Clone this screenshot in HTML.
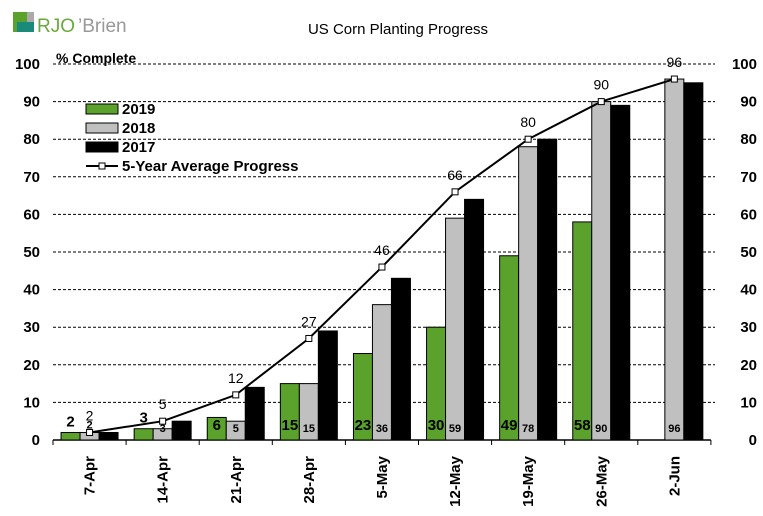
<!DOCTYPE html>
<html><head><meta charset="utf-8"><style>
body{margin:0;background:#fff;}
svg{display:block;font-family:"Liberation Sans",Arial,sans-serif;}
</style></head><body>
<svg id="c" width="763" height="516">
<g>
<rect x="13" y="12" width="14" height="20" fill="#5aa22c"/>
<rect x="27" y="12" width="7" height="10" fill="#aaa"/>
<rect x="17" y="22" width="17" height="10" fill="#1a8a7a"/>
<text x="37" y="32" font-size="19" fill="#6aaa3a">RJO</text>
<text x="78" y="32" font-size="19" fill="#999">’Brien</text>
</g>
<text x="398" y="34" font-size="15" text-anchor="middle">US Corn Planting Progress</text>
<text x="56" y="63" font-size="14" font-weight="bold">% Complete</text>
<g id="grid"></g><g id="bars"></g><g id="line"></g><g id="labels"></g>
<g font-weight="600">
<rect x="86" y="104" width="32" height="10" fill="#5aa22c" stroke="#000"/>
<text x="122" y="114" font-size="15">2019</text>
<rect x="86" y="123" width="32" height="10" fill="#c0c0c0" stroke="#000"/>
<text x="122" y="133" font-size="15">2018</text>
<rect x="86" y="142" width="32" height="10" fill="#000" stroke="#000"/>
<text x="122" y="152" font-size="15">2017</text>
<line x1="86" y1="166" x2="118" y2="166" stroke="#000" stroke-width="2"/>
<rect x="99" y="163" width="6" height="6" fill="#fff" stroke="#000"/>
<text x="122" y="171" font-size="15">5-Year Average Progress</text>
</g>
</svg>
<script>
const categories=["7-Apr","14-Apr","21-Apr","28-Apr","5-May","12-May","19-May","26-May","2-Jun"];
const s2019=[2,3,6,15,23,30,49,58,null];
const s2018=[2,3,5,15,36,59,78,90,96];
const s2017=[2,5,14,29,43,64,80,89,95];
const avg5=[2,5,12,27,46,66,80,90,96];
const yTicks=[0,10,20,30,40,50,60,70,80,90,100];
const NS="http://www.w3.org/2000/svg";
const x0=53,cw=73.1,yb=440,ppu=3.76,bw=19;
const y=v=>yb-v*ppu;
const cx=i=>x0+cw*i+cw/2;
function mk(tag,at,parent,txt){const e=document.createElementNS(NS,tag);for(const k in at)e.setAttribute(k,at[k]);if(txt!=null)e.textContent=txt;document.getElementById(parent).appendChild(e);return e;}
yTicks.forEach(t=>{
 if(t>0){const l=mk('line',{x1:x0,x2:715,y1:y(t),y2:y(t),stroke:'#000','stroke-dasharray':'3,2','stroke-width':1},'grid');
 
 }
 const a=mk('text',{x:40,y:y(t)+5,'font-size':15,'font-weight':600,'text-anchor':'end'},'grid',t);
 
 
 const b=mk('text',{x:757,y:y(t)+5,'font-size':15,'font-weight':600,'text-anchor':'end'},'grid',t);
 
 
});
const ax=mk('line',{x1:x0,x2:x0+cw*9,y1:yb,y2:yb,stroke:'#000','stroke-width':1.5},'grid');


for(let i=0;i<=9;i++){const tk=mk('line',{x1:x0+cw*i,x2:x0+cw*i,y1:yb,y2:yb+5,stroke:'#000'},'grid');

}
const series=[[s2019,'#5aa22c','bar-2019'],[s2018,'#c0c0c0','bar-2018'],[s2017,'#000','bar-2017']];
categories.forEach((c,i)=>{
 series.forEach(([arr,col,nm],j)=>{
  const v=arr[i];if(v==null)return;
  const bx=cx(i)-1.5*bw+j*bw;
  const r=mk('rect',{x:bx,y:y(v),width:bw,height:v*ppu,fill:col,stroke:'#000','stroke-width':1},'bars');
  
  
  if(j===0){const big=v>=6;
   const t=mk('text',{x:bx+bw/2,y:big?yb-10:y(v)-6,'font-size':15,'font-weight':'bold','text-anchor':'middle'},'labels',v);
   
   }
  if(j===1){const big=v>=3;
   const t=mk('text',{x:bx+bw/2,y:big?yb-8:y(v)-4,'font-size':11,'font-weight':'bold','text-anchor':'middle'},'labels',v);
   
   }
 });
 const lt=mk('text',{x:cx(i)+5,y:yb+16,'font-size':15,'font-weight':'bold','text-anchor':'end',transform:`rotate(-90 ${cx(i)+5} ${yb+16})`},'labels',c);
 
 
});
const pl=mk('polyline',{points:avg5.map((v,i)=>cx(i)+','+y(v)).join(' '),fill:'none',stroke:'#000','stroke-width':2},'line');


avg5.forEach((v,i)=>{
 const p=mk('rect',{x:cx(i)-3,y:y(v)-3,width:6,height:6,fill:'#fff',stroke:'#000'},'line');
 
 
 const t=mk('text',{x:cx(i),y:y(v)-12,'font-size':14,'text-anchor':'middle'},'labels',v);
 
 
});
</script>
</body></html>
